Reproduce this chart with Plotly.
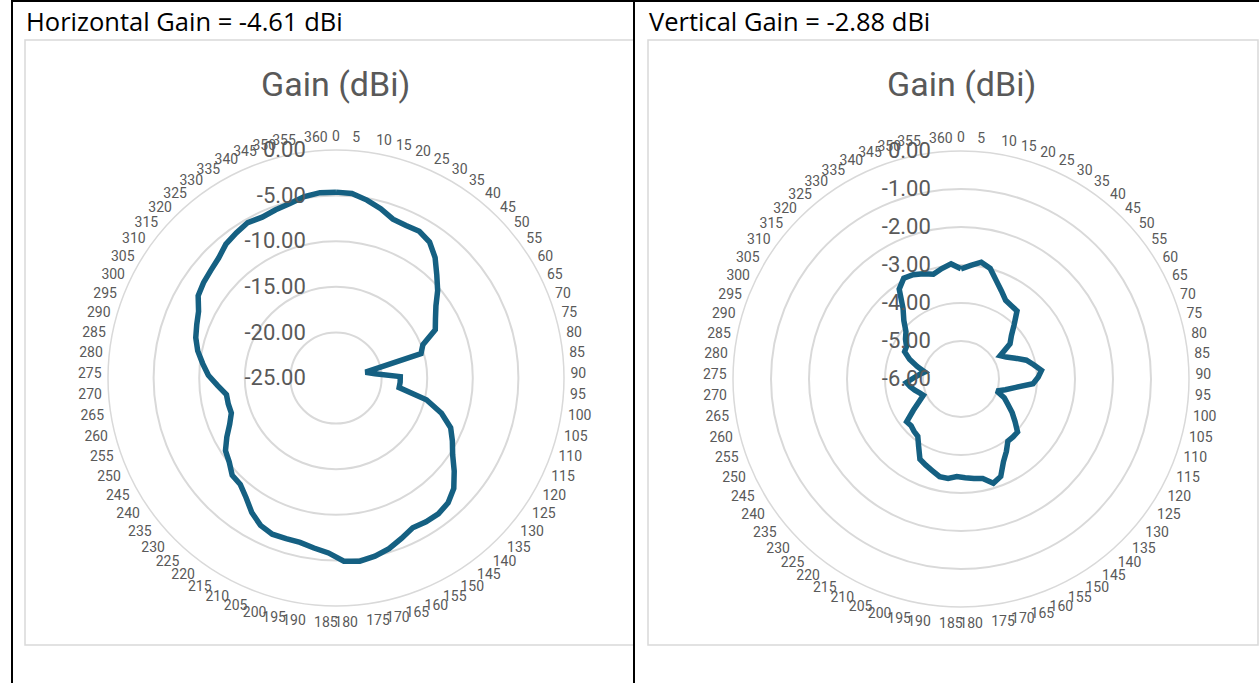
import plotly.graph_objects as go

W, H = 1259, 683

angles = [str(a) for a in range(0, 365, 5)]  # 0..360 step 5 (73 categories)

horizontal_gain = [
    -4.62, -4.70, -5.20, -5.80, -6.50, -6.60, -6.50, -6.90, -7.90, -9.20,
    -10.30, -11.50, -12.30, -12.90, -14.80, -15.30, -21.70, -20.70, -17.95, -17.95,
    -18.00, -14.80, -12.80, -11.30, -10.50, -9.70, -8.50, -7.30, -6.60, -6.35,
    -6.40, -6.55, -6.00, -5.40, -5.00, -4.75, -4.90, -5.80, -6.20, -6.55,
    -6.55, -6.50, -6.85, -7.60, -8.60, -9.30, -9.40, -10.10, -10.50, -11.40,
    -12.30, -12.90, -12.85, -12.85, -12.00, -11.00, -10.30, -9.55, -9.00, -8.65,
    -8.25, -7.40, -7.10, -6.90, -6.60, -6.00, -5.70, -5.40, -5.60, -5.40,
    -5.20, -4.80, -4.60,
]

vertical_gain = [
    -3.10, -3.00, -2.88, -2.99, -3.25, -3.45, -3.62, -3.66, -3.68, -4.00,
    -4.25, -4.41, -4.80, -4.68, -4.47, -4.21, -4.05, -3.87, -3.97, -4.10,
    -4.54, -4.80, -5.01, -4.76, -4.60, -4.39, -4.19, -3.96, -3.95, -3.95,
    -3.75, -3.55, -3.23, -3.13, -3.32, -3.36, -3.40, -3.43, -3.36, -3.37,
    -3.47, -3.55, -3.63, -3.90, -4.11, -4.15, -4.20, -4.18, -4.50, -4.75,
    -4.92, -4.85, -4.75, -4.65, -4.56, -4.75, -4.90, -5.03, -4.80, -4.55,
    -4.35, -4.33, -4.20, -4.09, -3.85, -3.60, -3.13, -2.95, -2.98, -3.06,
    -3.15, -3.05, -2.96,
]

headers = ["Horizontal Gain = -4.61 dBi", "Vertical Gain = -2.88 dBi"]
chart_title = "Gain (dBi)"
h_ticks = [-25, -20, -15, -10, -5, 0]
v_ticks = [-6, -5, -4, -3, -2, -1, 0]

LINE = "#156082"
GRID = "#d9d9d9"
TXT = "#595959"
FONT = "Roboto, Liberation Sans, sans-serif"


def px_x(x):
    return x / W


def px_y(y):
    return 1 - y / H


fig = go.Figure()

for vals, name in [(horizontal_gain, "polar"), (vertical_gain, "polar2")]:
    fig.add_trace(go.Scatterpolar(
        r=vals + vals[:1],
        theta=angles + angles[:1],
        mode="lines",
        line=dict(color=LINE, width=5.5),
        subplot=name,
        showlegend=False,
        hoverinfo="skip",
    ))

centers = [(336, 378), (961, 379)]
R = 228


def polar_layout(center, ticks):
    cx, cy = center
    return dict(
        domain=dict(x=[px_x(cx - R), px_x(cx + R)], y=[px_y(cy + R), px_y(cy - R)]),
        bgcolor="white",
        angularaxis=dict(
            type="category",
            categoryorder="array",
            categoryarray=angles,
            direction="clockwise",
            rotation=90,
            showgrid=False,
            showline=True,
            linecolor=GRID,
            linewidth=1.5,
            ticks="outside",
            ticklen=3,
            tickcolor="rgba(0,0,0,0)",
            tickfont=dict(family=FONT, size=14, color=TXT),
        ),
        radialaxis=dict(
            range=[ticks[0], ticks[-1]],
            tickmode="array",
            tickvals=ticks,
            ticktext=["%.2f" % t if t != 0 else "0.00" for t in ticks],
            angle=90,
            side="counterclockwise",
            tickangle=90,
            showline=False,
            ticks="outside",
            ticklen=22,
            tickcolor="rgba(0,0,0,0)",
            gridcolor=GRID,
            gridwidth=1.5,
            tickfont=dict(family=FONT, size=22, color=TXT),
        ),
    )


fig.update_layout(
    width=W,
    height=H,
    margin=dict(l=0, r=0, t=0, b=0),
    paper_bgcolor="white",
    polar=polar_layout(centers[0], h_ticks),
    polar2=polar_layout(centers[1], v_ticks),
)

shapes = []
black = dict(color="black", width=2)
shapes.append(dict(type="line", xref="paper", yref="paper", x0=px_x(12), x1=1, y0=px_y(1), y1=px_y(1), line=black))
shapes.append(dict(type="line", xref="paper", yref="paper", x0=px_x(12), x1=px_x(12), y0=px_y(0), y1=0, line=black))
shapes.append(dict(type="line", xref="paper", yref="paper", x0=px_x(634), x1=px_x(634), y0=px_y(0), y1=0, line=black))
for (x0, x1) in [(25, 634), (648, 1258)]:
    shapes.append(dict(type="rect", xref="paper", yref="paper", x0=px_x(x0), x1=px_x(x1),
                       y0=px_y(645), y1=px_y(40), line=dict(color=GRID, width=1.5), layer="below"))
fig.update_layout(shapes=shapes)

annotations = []
for (x, txt) in [(24, headers[0]), (647, headers[1])]:
    annotations.append(dict(x=px_x(x), y=px_y(21), xref="paper", yref="paper", text=txt,
                            showarrow=False, xanchor="left", yanchor="middle",
                            font=dict(family="Open Sans, Liberation Sans, Arial", size=25.5, color="black")))
for (cx, _) in centers:
    annotations.append(dict(x=px_x(cx), y=px_y(84), xref="paper", yref="paper", text=chart_title,
                            showarrow=False, xanchor="center", yanchor="middle",
                            font=dict(family=FONT, size=34, color=TXT)))
fig.update_layout(annotations=annotations)

fig.write_html("out.html", config={"displayModeBar": False},
               post_script="document.body.style.margin='0px';")
